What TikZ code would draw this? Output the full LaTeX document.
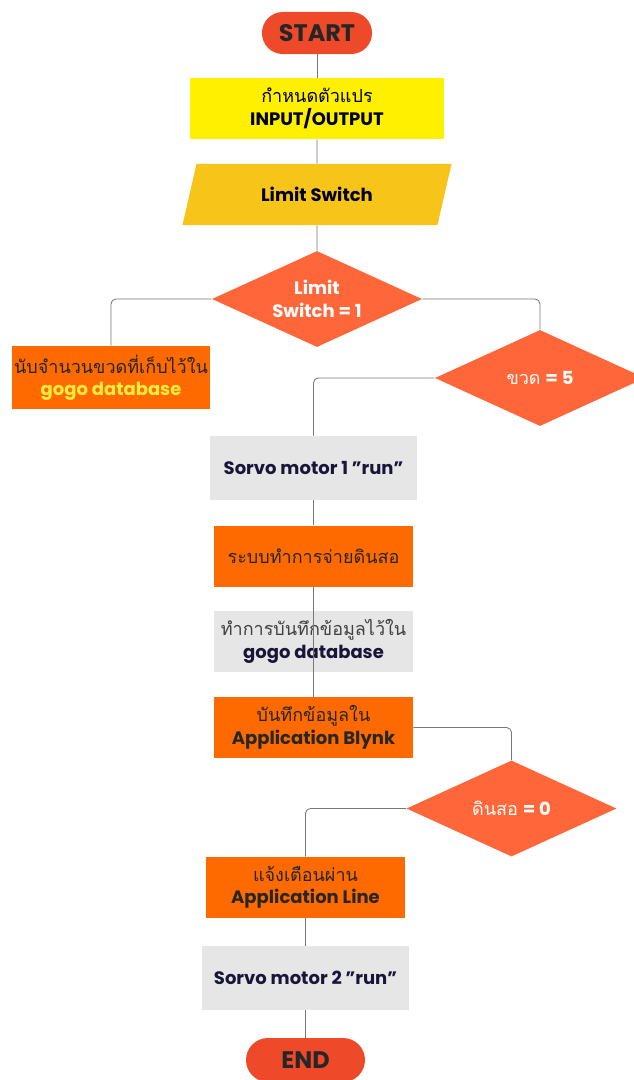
\documentclass[tikz,border=0pt]{standalone}
\usepackage{fontspec}
\setmainfont{Poppins}
\newfontfamily\thaifont[Script=Thai, Scale=1.0]{Loma}
\usetikzlibrary{shapes.geometric, positioning}

\definecolor{pillred}{RGB}{238,74,42}
\definecolor{ioyellow}{RGB}{255,240,0}
\definecolor{ingold}{RGB}{247,196,26}
\definecolor{dmdorange}{RGB}{255,103,58}
\definecolor{boxorange}{RGB}{255,106,0}
\definecolor{boxgrey}{RGB}{230,230,230}
\definecolor{navy}{RGB}{24,22,56}
\definecolor{linegrey}{RGB}{120,120,120}
\definecolor{dbyellow}{RGB}{255,236,60}

\tikzset{
  base/.style={font=\fontsize{12.8}{16}\selectfont, align=center, inner sep=0pt},
  pill/.style={base, fill=pillred, text=black!85, minimum width=2.75cm, minimum height=1.05cm,
    rounded corners=0.52cm, font=\fontsize{17}{20}\selectfont\bfseries},
  orbox/.style={base, fill=boxorange, text=black!85, minimum width=4.975cm, minimum height=1.525cm},
  grbox/.style={base, fill=boxgrey, text=navy, minimum width=5.175cm, minimum height=1.6cm},
  decide/.style={base, diamond, shape aspect=2.2, fill=dmdorange, text=white,
    minimum width=5.25cm, minimum height=2.4cm},
  conn/.style={draw=linegrey, line width=0.6pt, rounded corners=3.5pt}
}
\newcommand{\thtxt}[1]{{\thaifont #1}}

\begin{document}
\begin{tikzpicture}[x=0.025cm, y=-0.025cm]

    \useasboundingbox (0,0) rectangle (633,1080);

    \node[pill] (start) at (317,33) {START};

    \node[base, fill=ioyellow, minimum width=6.35cm, minimum height=1.525cm] (io) at (317,108.5)
        {\thtxt{กำหนดตัวแปร}\\ \textbf{INPUT/OUTPUT}};

    \node[base, trapezium, trapezium left angle=46, trapezium right angle=134, fill=ingold,
        minimum width=6.725cm, minimum height=1.525cm, trapezium stretches body] (lsw) at (317,194.5)
        {\textbf{Limit Switch}};

    \node[decide] (d1) at (317,299) {\textbf{Limit}\\ \textbf{Switch = 1}};

    \node[orbox, minimum width=4.95cm, minimum height=1.575cm] (cnt) at (111,377.5)
        {\thtxt{นับจำนวนขวดที่เก็บไว้ใน}\\ \textcolor{dbyellow}{\textbf{gogo database}}};

    \node[decide] (d2) at (540,378) {\thtxt{ขวด} \textbf{= 5}};

    \node[grbox] (srv1) at (313.5,468) {\textbf{Sorvo motor 1 "run"}};

    \node[orbox] (pay) at (313.5,556) {\thtxt{ระบบทำการจ่ายดินสอ}};

    \node[grbox, minimum width=4.975cm, minimum height=1.525cm] (rec) at (313.5,641.5)
        {\textcolor{black!75}{\thtxt{ทำการบันทึกข้อมูลไว้ใน}}\\ \textbf{gogo database}};

    \node[orbox] (blk) at (313.5,727.5) {\thtxt{บันทึกข้อมูลใน}\\ \textbf{Application Blynk}};

    \node[decide] (d3) at (511.5,808.5) {\thtxt{ดินสอ} \textbf{= 0}};

    \node[orbox] (line) at (305.5,887.5) {\thtxt{แจ้งเตือนผ่าน}\\ \textbf{Application Line}};

    \node[grbox] (srv2) at (305.5,978) {\textbf{Sorvo motor 2 "run"}};

    \node[pill, minimum width=2.975cm, minimum height=1.1cm, rounded corners=0.55cm] (stop) at (305.5,1060) {END};

    % connectors
    \draw[conn] (start) -- (io);
    \draw[conn] (io) -- (lsw);
    \draw[conn] (lsw) -- (d1);
    \draw[conn] (d1.west) -| (cnt.north);
    \draw[conn] (d1.east) -| (d2.north);
    \draw[conn] (d2.west) -| (srv1.north);
    \draw[conn] (srv1) -- (pay);
    \draw[conn] (pay.south) -- (blk.north);
    \draw[conn] (blk.east) -| (d3.north);
    \draw[conn] (d3.west) -| (line.north);
    \draw[conn] (line) -- (srv2);
    \draw[conn] (srv2) -- (stop);

\end{tikzpicture}
\end{document}
